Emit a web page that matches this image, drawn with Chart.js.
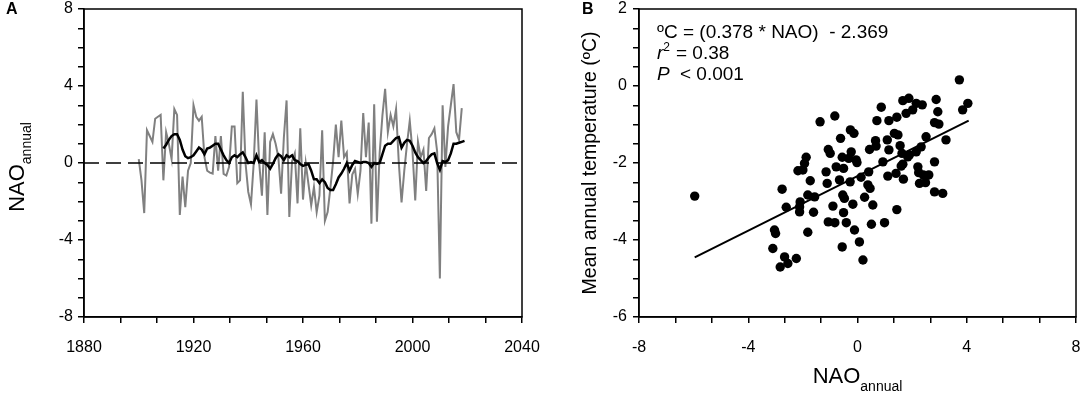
<!DOCTYPE html>
<html><head><meta charset="utf-8">
<script src="https://cdn.jsdelivr.net/npm/chart.js@4.4.1/dist/chart.umd.min.js"></script>
<style>
html,body{margin:0;padding:0;background:#fff;}
#wrap{position:relative;width:1084px;height:396px;overflow:hidden;background:#fff;}
canvas{position:absolute;top:0;}
</style></head><body>
<div id="wrap">
<canvas id="cA" width="560" height="396" style="left:0px"></canvas>
<canvas id="cB" width="524" height="396" style="left:560px"></canvas>
</div>
<script>
// ---------- Panel A data ----------
const naoStartYear = 1900;
const naoAnnual = [
  0.2, -0.9, -2.6, 1.7, 1.4, 1.1, 2.3, 2.4, 2.5, -0.9,        // 1900-1909
  1.6, 1.0, 0.2, 2.8, 2.5, -2.7, -0.7, -2.3, -0.4, 0.0,       // 1910-1919
  3.0, 2.4, 2.2, 2.4, 0.3, -0.4, -0.5, -0.55, 1.4, -0.4,      // 1920-1929
  1.4, -0.57, -0.65, -0.2, 1.9, 1.9, -1.05, -0.9, 3.7, 0.0,   // 1930-1939
  -1.5, -2.15, 0.0, 3.3, 0.0, -1.7, 1.6, -2.7, 1.1, 1.5,      // 1940-1949
  1.0, 0.3, -1.6, 1.3, 3.25, -2.8, 0.1, 0.5, -2.1, 1.8,       // 1950-1959
  -1.9, 0.0, -1.1, -2.2, -1.25, -2.55, -1.7, 1.7, -3.0, -2.55,// 1960-1969
  -1.3, 0.1, 2.0, 0.3, 2.2, 0.3, 0.55, -2.1, -0.6, -0.3,      // 1970-1979
  -1.6, -0.4, 2.6, 0.3, 2.1, -3.15, 3.05, -3.05, 0.5, 2.45,   // 1980-1989
  3.85, 1.6, 2.5, 1.9, 2.8, 0.0, -2.05, -0.4, 1.0, 2.2,       // 1990-1999
  0.6, -1.95, 1.1, 0.3, 0.7, -1.45, 1.3, 1.5, 1.8, 0.6,       // 2000-2009
  -6.0, 3.0, -0.2, 1.9, 3.0, 4.1, 1.6, 1.2, 2.85              // 2010-2018
];
const smoothStartYear = 1909;
const naoSmooth = [
  0.75,                                                        // 1909
  0.95, 1.2, 1.4, 1.5, 1.5, 1.2, 0.7, 0.35, 0.25, 0.3,        // 1910-1919
  0.4, 0.6, 0.8, 0.7, 0.45, 0.75, 0.8, 0.9, 1.0, 1.0,         // 1920-1929
  0.7, 0.4, 0.15, 0.0, 0.3, 0.4, 0.3, 0.45, 0.55, 0.3,        // 1930-1939
  0.0, 0.05, 0.0, 0.4, 0.05, 0.15, 0.0, -0.1, -0.3, -0.05,    // 1940-1949
  0.25, 0.45, 0.35, 0.15, 0.4, 0.3, 0.4, 0.15, 0.1, -0.05,    // 1950-1959
  -0.15, -0.1, -0.05, -0.4, -0.85, -0.85, -1.05, -0.85, -1.0, -1.3, // 1960-1969
  -1.4, -1.4, -1.1, -0.75, -0.55, -0.3, 0.0, -0.4, -0.1, 0.1, // 1970-1979
  0.05, 0.0, 0.05, 0.05, 0.0, -0.2, 0.0, -0.05, 0.0, 0.45,    // 1980-1989
  0.9, 1.0, 1.0, 1.15, 1.3, 1.35, 0.8, 1.05, 1.2, 1.15,       // 1990-1999
  0.9, 0.55, 0.3, 0.15, 0.0, 0.1, 0.3, 0.45, 0.5, 0.0,        // 2000-2009
  -0.35, 0.1, 0.05, 0.15, 0.5, 1.0, 1.0, 1.05, 1.1, 1.15      // 2010-2019
];
const zeroLineYears = [1880, 2040];
const zeroLineValues = [0, 0];
const xLabelsA = [1880, 1920, 1960, 2000, 2040];
const yLabelsA = [-8, -4, 0, 4, 8];

// ---------- Panel B data ----------
const scatterNao = [
  -5.96,-2.76,-2.61,-3.04,-3.00,-3.10,-2.83,-2.67,-2.55,-2.24,
  -2.18,-2.00,-1.94,-1.88,-2.10,-2.12,-2.12,-1.82,-1.57,-1.73,
  -1.61,-1.82,-1.37,-0.83,-1.15,-1.11,-1.07,-1.00,-1.07,-0.90,
  -0.83,-0.78,-0.66,-0.62,-0.56,-0.51,-0.54,-0.48,-0.51,-0.41,
  -0.56,-0.26,-0.13,-0.23,-0.32,-0.27,-0.17,-0.05,-0.02,-0.11,
  0.07,0.20,0.13,0.26,0.38,0.46,0.41,0.44,0.56,0.51,
  0.66,0.71,0.87,0.68,0.93,0.99,1.09,1.11,1.15,1.15,
  1.44,1.35,1.48,1.41,1.44,1.56,1.63,1.66,1.60,1.68,
  1.66,1.78,1.88,1.84,2.02,2.15,2.37,2.15,2.21,2.24,
  2.27,2.33,2.41,2.51,2.49,2.61,2.82,2.88,2.94,2.98,
  2.82,2.82,3.12,3.24,3.73,3.85,4.04,1.90
];
const scatterTemp = [
  -2.86,-2.68,-3.15,-3.74,-3.83,-4.22,-4.70,-4.44,-4.61,-4.48,
  -2.20,-2.18,-2.01,-1.85,-3.01,-3.14,-3.27,-2.83,-2.88,-2.46,
  -3.28,-3.80,-0.93,-0.78,-2.23,-2.53,-1.65,-1.75,-3.53,-3.12,
  -3.55,-2.10,-2.44,-1.36,-1.85,-2.14,-2.83,-2.92,-3.29,-3.55,
  -4.18,-1.14,-1.23,-1.71,-1.88,-2.49,-3.07,-1.92,-1.99,-3.74,
  -4.05,-4.52,-2.37,-2.89,-2.57,-2.66,-2.23,-1.65,-3.09,-3.59,
  -1.42,-0.90,-0.55,-1.56,-1.97,-3.55,-1.40,-2.34,-1.66,-0.90,
  -0.81,-1.23,-1.27,-2.27,-3.21,-1.55,-1.75,-2.03,-2.08,-2.42,
  -0.38,-0.71,-0.32,-1.84,-0.62,-0.45,-0.49,-1.71,-2.10,-2.25,
  -2.53,-1.58,-2.31,-1.32,-2.51,-2.31,-0.95,-0.35,-0.67,-0.99,
  -1.97,-2.75,-2.79,-1.40,0.16,-0.62,-0.45,-1.79
];
const regressionNao = [-5.96, 4.07];
const regressionTemp = [-4.45, -0.90];
const xLabelsB = [-8, -4, 0, 4, 8];
const yLabelsB = [-6, -4, -2, 0, 2];
const equationText = 'ºC = (0.378 * NAO)  - 2.369';
const r2Text = '= 0.38';
const pText = '< 0.001';

// ---------- helpers ----------
const FF = '"Liberation Sans", Arial, Helvetica, sans-serif';
const tickFont = { family: FF, size: 16 };

function withMinors(labels, parts) {
  const out = [];
  for (let i = 0; i < labels.length - 1; i++) {
    const step = (labels[i + 1] - labels[i]) / parts;
    for (let k = 0; k < parts; k++) out.push(labels[i] + k * step);
  }
  out.push(labels[labels.length - 1]);
  return out;
}
function labelFn(labels) {
  return (v) => {
    const hit = labels.find(l => Math.abs(l - v) < 1e-6);
    return hit === undefined ? '' : String(hit);
  };
}
function fixH(h) {
  return (s) => { s.height = h; s.paddingLeft = 0; s.paddingRight = 0; s.paddingTop = 0; s.paddingBottom = 0; };
}
function fixW(w) {
  return (s) => { s.width = w; s.paddingLeft = 0; s.paddingRight = 0; s.paddingTop = 0; s.paddingBottom = 0; };
}
function axis(labels, parts, fitFn, pad) {
  const ticks = withMinors(labels, parts);
  return {
    type: 'linear',
    min: labels[0], max: labels[labels.length - 1],
    afterFit: fitFn,
    afterBuildTicks: (s) => { s.ticks = ticks.map(v => ({ value: v })); },
    ticks: { callback: labelFn(labels), font: tickFont, color: '#000', padding: pad, autoSkip: false, maxRotation: 0, minRotation: 0 },
    grid: { display: true, drawOnChartArea: false, drawTicks: true, tickLength: 6, color: '#000', lineWidth: 1.5 },
    border: { display: true, color: '#000', width: 1.5 }
  };
}
const framePlugin = {
  id: 'frameBox',
  afterDraw(chart) {
    const { ctx, chartArea: a } = chart;
    ctx.save();
    ctx.strokeStyle = '#000';
    ctx.lineWidth = 1.5;
    ctx.strokeRect(a.left, a.top, a.right - a.left, a.bottom - a.top);
    ctx.restore();
  }
};

// ---------- Panel A ----------
const naoYears = naoAnnual.map((_, i) => naoStartYear + i);
const smoothYears = naoSmooth.map((_, i) => smoothStartYear + i);

const textA = {
  id: 'textA',
  afterDraw(chart) {
    const ctx = chart.ctx, a = chart.chartArea;
    ctx.save();
    ctx.fillStyle = '#000';
    ctx.textAlign = 'left';
    ctx.textBaseline = 'alphabetic';
    ctx.font = `bold 16px ${FF}`;
    ctx.fillText('A', 6, 14);
    ctx.font = `22px ${FF}`;
    const w1 = ctx.measureText('NAO').width;
    ctx.font = `14px ${FF}`;
    const w2 = ctx.measureText('annual').width;
    const cy = (a.top + a.bottom) / 2;
    ctx.translate(24, cy + (w1 + w2) / 2 + 4);
    ctx.rotate(-Math.PI / 2);
    ctx.font = `22px ${FF}`;
    ctx.fillText('NAO', 0, 0);
    ctx.font = `14px ${FF}`;
    ctx.fillText('annual', w1, 7);
    ctx.restore();
  }
};

new Chart(document.getElementById('cA'), {
  type: 'line',
  data: {
    datasets: [
      { data: smoothYears.map((x, i) => ({ x, y: naoSmooth[i] })), borderColor: '#000', borderWidth: 2.5, pointRadius: 0, tension: 0, fill: false },
      { data: zeroLineYears.map((x, i) => ({ x, y: zeroLineValues[i] })), borderColor: '#000', borderWidth: 1.5, borderDash: [15, 7], pointRadius: 0, fill: false },
      { data: naoYears.map((x, i) => ({ x, y: naoAnnual[i] })), borderColor: '#808080', borderWidth: 2, pointRadius: 0, tension: 0, fill: false }
    ]
  },
  options: {
    responsive: false, animation: false, devicePixelRatio: 1,
    layout: { padding: { left: 0, top: 9, right: 38, bottom: 0 }, autoPadding: false },
    plugins: { legend: { display: false }, tooltip: { enabled: false } },
    scales: {
      x: axis(xLabelsA, 3, fixH(79), 15),
      y: axis(yLabelsA, 4, fixW(84), 5)
    }
  },
  plugins: [framePlugin, textA]
});

// ---------- Panel B ----------
const textB = {
  id: 'textB',
  afterDraw(chart) {
    const ctx = chart.ctx, a = chart.chartArea;
    ctx.save();
    ctx.fillStyle = '#000';
    ctx.textAlign = 'left';
    ctx.textBaseline = 'alphabetic';
    ctx.font = `bold 16px ${FF}`;
    ctx.fillText('B', 22, 14);

    const x0 = a.left + 18;
    ctx.font = `19px ${FF}`;
    ctx.fillText(equationText, x0, 38);
    ctx.font = `italic 19px ${FF}`;
    ctx.fillText('r', x0, 59);
    const wr = ctx.measureText('r').width;
    ctx.font = `12px ${FF}`;
    ctx.fillText('2', x0 + wr, 51);
    ctx.font = `19px ${FF}`;
    ctx.fillText(r2Text, x0 + 19, 59);
    ctx.font = `italic 19px ${FF}`;
    ctx.fillText('P', x0, 80);
    ctx.font = `19px ${FF}`;
    ctx.fillText(pText, x0 + 23, 80);

    // x title
    ctx.font = `22px ${FF}`;
    const w1 = ctx.measureText('NAO').width;
    ctx.font = `14px ${FF}`;
    const w2 = ctx.measureText('annual').width;
    const cx = (a.left + a.right) / 2;
    ctx.font = `22px ${FF}`;
    ctx.fillText('NAO', cx - (w1 + w2) / 2, 383);
    ctx.font = `14px ${FF}`;
    ctx.fillText('annual', cx - (w1 + w2) / 2 + w1, 391);

    // y title
    const cy = (a.top + a.bottom) / 2;
    ctx.translate(36, cy);
    ctx.rotate(-Math.PI / 2);
    ctx.textAlign = 'center';
    ctx.font = `19.5px ${FF}`;
    ctx.fillText('Mean annual temperature (ºC)', 0, 0);
    ctx.restore();
  }
};

new Chart(document.getElementById('cB'), {
  type: 'scatter',
  data: {
    datasets: [
      { type: 'line', data: regressionNao.map((x, i) => ({ x, y: regressionTemp[i] })), borderColor: '#000', borderWidth: 2, pointRadius: 0, fill: false },
      { data: scatterNao.map((x, i) => ({ x, y: scatterTemp[i] })), backgroundColor: '#000', borderColor: '#000', borderWidth: 0, pointRadius: 4.7 }
    ]
  },
  options: {
    responsive: false, animation: false, devicePixelRatio: 1,
    layout: { padding: { left: 0, top: 9, right: 8, bottom: 0 }, autoPadding: false },
    plugins: { legend: { display: false }, tooltip: { enabled: false } },
    scales: {
      x: axis(xLabelsB, 3, fixH(79), 15),
      y: axis(yLabelsB, 4, fixW(79), 6)
    }
  },
  plugins: [framePlugin, textB]
});
</script>
</body></html>
